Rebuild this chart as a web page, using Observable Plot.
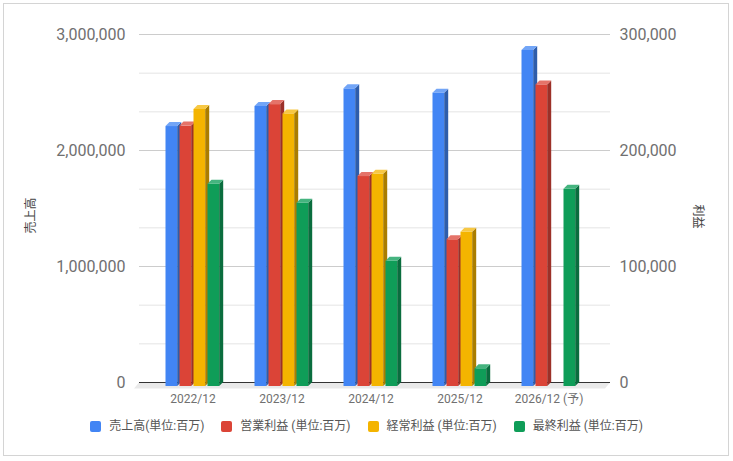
<!DOCTYPE html>
<html><head><meta charset="utf-8">
<script src="https://cdn.jsdelivr.net/npm/d3@7"></script>
<script src="https://cdn.jsdelivr.net/npm/@observablehq/plot@0.6"></script>
<style>
html,body{margin:0;padding:0;background:#fff;}
body{width:733px;height:461px;position:relative;overflow:hidden;font-family:Roboto,"Noto Sans CJK JP",sans-serif;}
#frame{position:absolute;left:3px;top:3px;width:726px;height:453px;box-sizing:border-box;border:1px solid #d4d4d4;}
#chart{position:absolute;left:0;top:0;}
#legend{position:absolute;left:0;top:418px;width:733px;display:flex;justify-content:center;gap:17px;font-size:12px;color:#555;line-height:16px;}
#legend .item{display:flex;align-items:center;white-space:nowrap;}
#legend .sw{width:11px;height:11px;border-radius:2px;margin-right:8px;}
.atitle{position:absolute;font-size:12px;color:#444;white-space:nowrap;transform-origin:center center;}
</style>
</head><body>
<div id="frame"></div>
<div id="chart"></div>
<div id="legend"></div>
<div class="atitle" id="tl">売上高</div>
<div class="atitle" id="tr">利益</div>
<script>
// ---- data ----
const periods = ["2022/12", "2023/12", "2024/12", "2025/12", "2026/12 (予)"];
const sales = [2241000, 2414000, 2566000, 2529000, 2897000];          // 売上高 (left axis)
const operatingProfit = [224500, 243000, 181000, 126500, 260000];     // 営業利益 (right axis)
const ordinaryProfit = [238800, 235000, 183000, 133000, null];        // 経常利益 (right axis)
const netProfit = [174400, 158000, 108000, 15300, 170000];            // 最終利益 (right axis)
const seriesNames = ["売上高(単位:百万)", "営業利益 (単位:百万)", "経常利益 (単位:百万)", "最終利益 (単位:百万)"];
const seriesAxis = ["left", "right", "right", "right"];
const leftTicks = [0, 1000000, 2000000, 3000000];
const rightTicks = [0, 100000, 200000, 300000];
const leftTitle = "売上高";
const rightTitle = "利益";

const colors = ["#4285F4", "#DB4437", "#F4B400", "#0F9D58"];
const sideColors = ["#2E5DAB", "#9C3028", "#AA7D00", "#0A6D3E"];
const topColors = ["#72A5F7", "#E57369", "#F7C844", "#45B47F"];

const seriesValues = [sales, operatingProfit, ordinaryProfit, netProfit];
const ratio = leftTicks[leftTicks.length - 1] / rightTicks[rightTicks.length - 1];

const rows = [];
periods.forEach((p, i) => {
  seriesValues.forEach((vals, j) => {
    const v = vals[i];
    if (v == null) return;
    rows.push({period: p, j, series: seriesNames[j], value: v, yv: seriesAxis[j] === "left" ? v : v * ratio});
  });
});

const minorTicks = [];
for (let k = 0; k < leftTicks.length - 1; k++) {
  const a = leftTicks[k], b = leftTicks[k + 1];
  minorTicks.push(a + (b - a) / 3, a + 2 * (b - a) / 3);
}

const W = 733, H = 420;
const depth = 4;
const step = 89;          // band width
const groupOff = 17.5;    // first bar offset inside band
const barStep = 14;
const barW = 11.7;

const barMarks = seriesNames.map((name, j) =>
  Plot.barY(rows.filter(d => d.j === j), {
    x: "period", y: "yv", fill: colors[j],
    insetLeft: groupOff + j * barStep,
    insetRight: step - groupOff - j * barStep - barW,
    dy: depth,
    ariaDescription: "bar3d-" + j
  })
);

const fmt = d3.format(",");
const plot = Plot.plot({
  width: W, height: H,
  marginTop: 34, marginBottom: 38, marginLeft: 139, marginRight: 123,
  style: {fontFamily: "Roboto, 'Noto Sans CJK JP', sans-serif", background: "transparent", overflow: "visible"},
  x: {type: "band", domain: periods, range: [147.5, 592.5], padding: 0},
  y: {domain: [0, leftTicks[leftTicks.length - 1]]},
  marks: [
    Plot.ruleY(minorTicks, {stroke: "#e4e4e4"}),
    Plot.ruleY(leftTicks.filter(t => t > 0), {stroke: "#cccccc"}),
    Plot.axisY({ticks: leftTicks, anchor: "left", tickSize: 0, tickPadding: 14, tickFormat: fmt, fontSize: 16, fill: "#707070", label: null}),
    Plot.axisY({ticks: leftTicks, anchor: "right", tickSize: 0, tickPadding: 9, tickFormat: d => fmt(d / ratio), fontSize: 16, fill: "#707070", label: null}),
    Plot.axisX({tickSize: 0, tickPadding: 12, fontSize: 12, fill: "#707070", label: null}),
    Plot.ruleY([0], {stroke: "#333", ariaDescription: "baseline"}),
    ...barMarks
  ]
});
document.getElementById("chart").appendChild(plot);

const NS = "http://www.w3.org/2000/svg";
function poly(g, pts, fill, before) {
  const p = document.createElementNS(NS, "polygon");
  p.setAttribute("points", pts.map(q => q.join(",")).join(" "));
  p.setAttribute("fill", fill);
  p.setAttribute("stroke", "none");
  if (before) g.insertBefore(p, before); else g.appendChild(p);
  return p;
}
function findGroup(desc) {
  return plot.querySelector('g[aria-description="' + desc + '"]');
}

// floor under the baseline
const baseG = findGroup("baseline");
if (baseG) {
  const ln = baseG.querySelector("line");
  const x1 = +ln.getAttribute("x1"), x2 = +ln.getAttribute("x2"), y = +ln.getAttribute("y1");
  poly(baseG, [[x1, y], [x2, y], [x2 - 5, y + 6], [x1 - 5, y + 6]], "#e9e9e9", ln);
}

// 3D faces for each bar
seriesNames.forEach((name, j) => {
  const g = findGroup("bar3d-" + j);
  if (!g) return;
  Array.from(g.querySelectorAll("rect")).forEach(r => {
    const x0 = +r.getAttribute("x"), w = +r.getAttribute("width");
    const yT = +r.getAttribute("y"), h = +r.getAttribute("height");
    const x1 = x0 + w, yB = yT + h;
    poly(g, [[x1, yT], [x1 + depth, yT - depth], [x1 + depth, yB - depth], [x1, yB]], sideColors[j]);
    poly(g, [[x0, yT], [x0 + depth, yT - depth], [x1 + depth, yT - depth], [x1, yT]], topColors[j]);
  });
});

// legend
const lg = document.getElementById("legend");
seriesNames.forEach((name, j) => {
  const it = document.createElement("div"); it.className = "item";
  const sw = document.createElement("div"); sw.className = "sw"; sw.style.background = colors[j];
  const tx = document.createElement("span"); tx.textContent = name;
  it.appendChild(sw); it.appendChild(tx); lg.appendChild(it);
});

// axis titles
function placeTitle(id, text, cx, cy, rot) {
  const el = document.getElementById(id);
  el.textContent = text;
  const w = el.offsetWidth, h = el.offsetHeight;
  el.style.left = (cx - w / 2) + "px";
  el.style.top = (cy - h / 2) + "px";
  el.style.transform = "rotate(" + rot + "deg)";
}
placeTitle("tl", leftTitle, 29, 215, -90);
placeTitle("tr", rightTitle, 698.5, 216, 90);
</script>
</body></html>
